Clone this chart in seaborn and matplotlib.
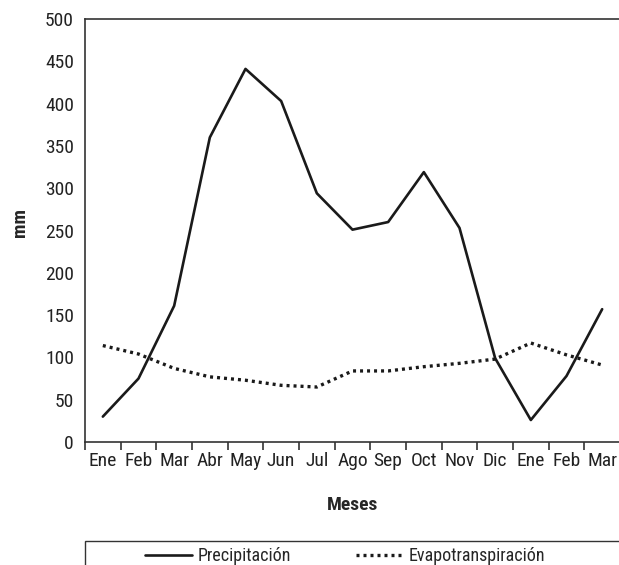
import matplotlib
matplotlib.use("Agg")
import matplotlib.pyplot as plt
import seaborn as sns
import pandas as pd
from matplotlib.patches import Rectangle
from matplotlib.ticker import FixedLocator

months = ["Ene", "Feb", "Mar", "Abr", "May", "Jun", "Jul", "Ago", "Sep",
          "Oct", "Nov", "Dic", "Ene", "Feb", "Mar"]
precipitacion = [30, 75, 161, 360, 441, 403, 294, 251, 260, 319, 253, 99, 26, 78, 157]
evapotranspiracion = [114, 104, 87, 77, 73, 67, 65, 84, 84, 89, 93, 98, 117, 103, 91]

sns.set_theme(style="white")
plt.rcParams['font.family'] = ['Roboto Condensed', 'DejaVu Sans']

FS = 14

idx = list(range(len(months)))
df = pd.DataFrame({
    "idx": idx * 2,
    "mm": precipitacion + evapotranspiracion,
    "serie": ["Precipitación"] * len(idx) + ["Evapotranspiración"] * len(idx),
})

fig = plt.figure(figsize=(6.19, 5.65), dpi=100)
ax = fig.add_axes([85 / 619, 1 - 442 / 565, 535 / 619, 423 / 565])

sns.lineplot(data=df[df.serie == "Precipitación"], x="idx", y="mm", ax=ax,
             color="#1a1a1a", linewidth=1.9, label="Precipitación", legend=False)
sns.lineplot(data=df[df.serie == "Evapotranspiración"], x="idx", y="mm", ax=ax,
             color="#1a1a1a", linewidth=2.4, linestyle=(0, (0.9, 1.2)),
             label="Evapotranspiración", legend=False)

ax.set_xlim(-0.5, len(months) - 0.5)
ax.set_ylim(0, 500)
ax.set_yticks(range(0, 501, 50))
ax.xaxis.set_major_locator(FixedLocator(idx))
ax.set_xticklabels(months)
ax.xaxis.set_minor_locator(FixedLocator([i - 0.5 for i in range(len(months))]))
ax.tick_params(axis="x", which="major", length=0, pad=7, labelsize=FS, colors="#222222")
ax.tick_params(axis="x", which="minor", length=6, width=1.2, color="#333333", direction="out")
ax.tick_params(axis="y", length=6, width=1.2, color="#333333", direction="out",
               labelsize=FS, labelcolor="#222222", pad=2)
ax.tick_params(axis="x", bottom=True, which="both")

for s in ["left", "bottom", "top"]:
    ax.spines[s].set_visible(True)
    ax.spines[s].set_color("#333333")
    ax.spines[s].set_linewidth(1.2)
ax.spines["right"].set_visible(False)

ax.set_xlabel("Meses", fontsize=FS, fontweight="bold", labelpad=19)
ax.set_ylabel("mm", fontsize=FS, fontweight="bold")
ax.yaxis.set_label_coords(-0.105, 0.52)

handles, labels = ax.get_legend_handles_labels()
fig.legend(handles, labels, loc="center", bbox_to_anchor=(345 / 619, 1 - 556 / 565),
           ncol=2, frameon=False, fontsize=13, handlelength=2.6, handletextpad=0.3,
           columnspacing=3.6, borderpad=0)
fig.patches.append(Rectangle((85 / 619, -0.05), 0.9, 0.05 + 1 - 541 / 565,
                             transform=fig.transFigure, fill=False,
                             edgecolor="#333333", linewidth=1.0))

fig.savefig("out.png", dpi=100)
